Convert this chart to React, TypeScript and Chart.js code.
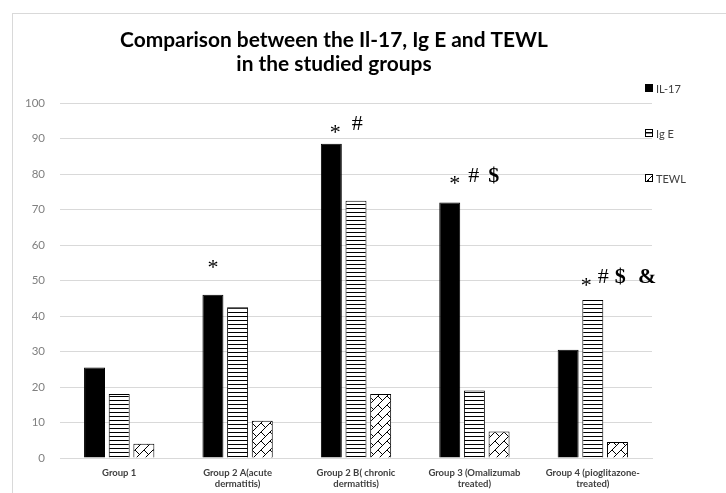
import React, { useEffect, useRef } from "react";
import { Chart, registerables } from "chart.js";

Chart.register(...registerables);

const categories: string[][] = [
  ["Group 1"],
  ["Group 2 A(acute", "dermatitis)"],
  ["Group 2 B( chronic", "dermatitis)"],
  ["Group 3 (Omalizumab", "treated)"],
  ["Group 4 (pioglitazone-", "treated)"],
];
const il17: number[] = [25.5, 46, 88.5, 72, 30.5];
const igE: number[] = [18, 42.5, 72.5, 19, 44.5];
const tewl: number[] = [4, 10.5, 18, 7.5, 4.5];
const seriesNames = ["IL-17", "Ig E", "TEWL"];
const yTicks: number[] = [0, 10, 20, 30, 40, 50, 60, 70, 80, 90, 100];

// significance marks: group index, anchor value (star level), symbols
const markGroups: number[] = [1, 2, 3, 4];
const markLevels: number[] = [55, 93, 78.5, 50];
const markSymbols: string[][] = [["*"], ["*", "#"], ["*", "#", "$"], ["*", "#", "$", "&"]];
const markOffsets: number[][] = [[0], [4, 26], [5, 24, 44], [18, 35, 52, 79]];

const FONT = "Lato, 'Open Sans', sans-serif";

function makeStripe(): CanvasPattern | string {
  const c = document.createElement("canvas");
  c.width = 4;
  c.height = 4;
  const x = c.getContext("2d")!;
  x.fillStyle = "#fff";
  x.fillRect(0, 0, 4, 4);
  x.fillStyle = "#000";
  x.fillRect(0, 0, 4, 1);
  return x.createPattern(c, "repeat") || "#fff";
}

function makeHatch(): CanvasPattern | string {
  const c = document.createElement("canvas");
  c.width = 9;
  c.height = 9;
  const x = c.getContext("2d")!;
  x.fillStyle = "#fff";
  x.fillRect(0, 0, 9, 9);
  x.strokeStyle = "#000";
  x.lineWidth = 1;
  x.beginPath();
  x.moveTo(-1, 10);
  x.lineTo(10, -1);
  x.moveTo(0, 0);
  x.lineTo(4.5, 4.5);
  x.stroke();
  return x.createPattern(c, "repeat") || "#fff";
}

export default function App() {
  const ref = useRef<HTMLCanvasElement | null>(null);

  useEffect(() => {
    document.body.style.margin = "0";
    const canvas = ref.current!;
    const stripe = makeStripe();
    const hatch = makeHatch();
    const fills = ["#000", stripe, hatch];

    const framePlugin = {
      id: "frame",
      beforeDraw(chart: any) {
        const ctx = chart.ctx;
        ctx.save();
        ctx.fillStyle = "#fff";
        ctx.fillRect(0, 0, chart.width, chart.height);
        ctx.strokeStyle = "#d9d9d9";
        ctx.lineWidth = 1;
        ctx.strokeRect(12.5, 13.5, chart.width + 20, chart.height + 20);
        ctx.restore();
      },
      afterDraw(chart: any) {
        const ctx = chart.ctx;
        ctx.save();
        // title
        ctx.fillStyle = "#000";
        ctx.textAlign = "center";
        ctx.textBaseline = "alphabetic";
        const line1 = "Comparison between the Il-17, Ig E and TEWL";
        const line2 = "in the studied groups";
        ctx.font = `bold 20px ${FONT}`;
        const w = ctx.measureText(line1).width;
        const size = (20 * 428) / w;
        ctx.font = `bold ${size.toFixed(2)}px ${FONT}`;
        ctx.fillText(line1, 334, 47);
        ctx.fillText(line2, 334, 71);

        // legend
        const ly = [88, 133, 178];
        ctx.font = `11px ${FONT}`;
        ctx.textAlign = "left";
        ctx.textBaseline = "middle";
        seriesNames.forEach((name, i) => {
          const bx = 645.5, by = ly[i] - 3.5;
          ctx.fillStyle = fills[i] as any;
          ctx.fillRect(bx, by, 7, 7);
          ctx.strokeStyle = "#000";
          ctx.lineWidth = 1;
          ctx.strokeRect(bx, by, 7, 7);
          if (i === 1) {
            ctx.beginPath();
            ctx.moveTo(bx, by + 3.5);
            ctx.lineTo(bx + 7, by + 3.5);
            ctx.stroke();
          }
          ctx.fillStyle = "#404040";
          ctx.fillText(name, 656, ly[i] + 1);
        });

        // significance marks
        const meta = chart.getDatasetMeta(0);
        const y = chart.scales.y;
        ctx.fillStyle = "#000";
        ctx.textAlign = "center";
        ctx.textBaseline = "alphabetic";
        markGroups.forEach((g, k) => {
          const bar = meta.data[g];
          const cy = y.getPixelForValue(markLevels[k]);
          markSymbols[k].forEach((s, j) => {
            const x = bar.x + markOffsets[k][j];
            if (s === "*") {
              ctx.font = `22px 'Liberation Serif', 'DejaVu Serif', serif`;
              ctx.fillText(s, x, cy + 11);
            } else {
              const bold = s === "$" || s === "&";
              ctx.font = `${bold ? "bold " : ""}22px 'Liberation Serif', 'DejaVu Serif', serif`;
              ctx.fillText(s, x, cy + 2.5);
            }
          });
        });
        ctx.restore();
      },
    };

    const chart = new Chart(canvas, {
      type: "bar",
      data: {
        labels: categories,
        datasets: [il17, igE, tewl].map((d, i) => ({
          label: seriesNames[i],
          data: d,
          backgroundColor: fills[i] as any,
          borderColor: "#000",
          borderWidth: 1,
          categoryPercentage: 0.625,
          barPercentage: 0.85,
        })),
      },
      options: {
        responsive: false,
        animation: false,
        layout: { padding: { top: 103, right: 74, bottom: 0, left: 0 } },
        plugins: {
          legend: { display: false },
          title: { display: false },
          tooltip: { enabled: false },
        },
        scales: {
          x: {
            grid: { display: false, drawTicks: false },
            border: { display: true, color: "#d9d9d9" },
            ticks: {
              color: "#404040",
              font: { family: FONT, size: 9.5, weight: "bold" },
              padding: 9,
              maxRotation: 0,
              autoSkip: false,
            },
            afterFit: (s: any) => {
              s.height = 35;
            },
          },
          y: {
            min: 0,
            max: 100,
            afterBuildTicks: (s: any) => {
              s.ticks = yTicks.map((v) => ({ value: v }));
            },
            grid: { color: "#d9d9d9", drawTicks: false },
            border: { display: false },
            ticks: {
              color: "#808080",
              font: { family: FONT, size: 11.5 },
              padding: 15,
            },
            afterFit: (s: any) => {
              s.width = 60;
            },
          },
        },
      },
      plugins: [framePlugin],
    });
    return () => chart.destroy();
  }, []);

  return (
    <div style={{ width: 726, height: 493 }}>
      <canvas ref={ref} width={726} height={493} />
    </div>
  );
}
